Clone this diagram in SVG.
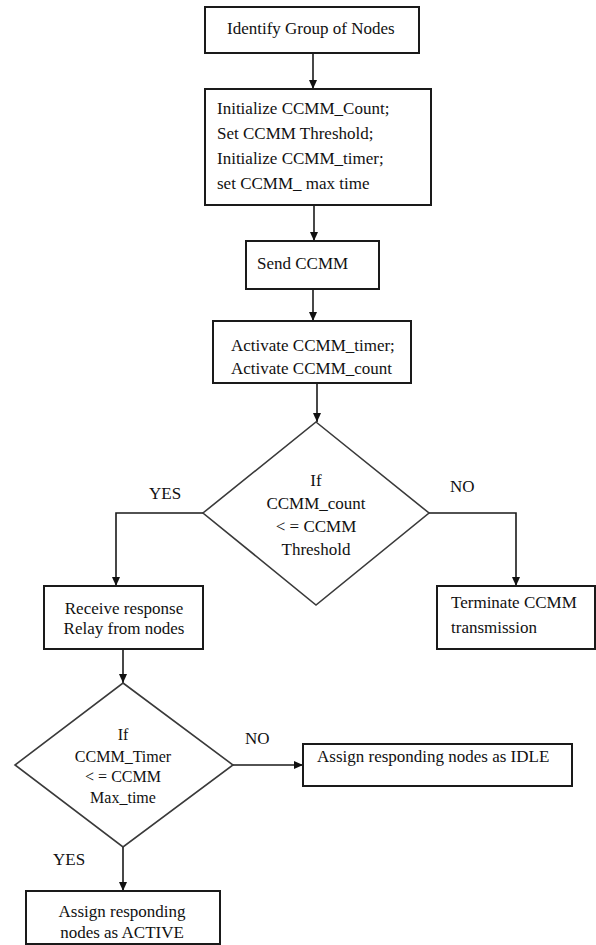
<svg xmlns="http://www.w3.org/2000/svg" width="596" height="945" viewBox="0 0 596 945" font-family="'Liberation Serif', 'Times New Roman', 'DejaVu Serif', serif">
<style>
.box{fill:#fff;stroke:#1a1a1a;stroke-width:2}
.dia{fill:#fff;stroke:#3a3a3a;stroke-width:1.6}
.t{font-family:'Liberation Serif','Times New Roman','DejaVu Serif',serif;font-size:17px;fill:#111}
.c{text-anchor:middle}
.s{font-size:16px}
.ln{fill:none;stroke:#1a1a1a;stroke-width:1.6}
</style>
<defs>
<marker id="ah" markerWidth="10" markerHeight="10" refX="9" refY="4.5" orient="auto" markerUnits="userSpaceOnUse">
<path d="M0,0.5 L9,4.5 L0,8.5 z" fill="#111"/>
</marker>
</defs>
<rect width="596" height="945" fill="#fff"/>
<g id="connectors">
<path class="ln" d="M313,53 V89" marker-end="url(#ah)"/>
<path class="ln" d="M314,205 V241" marker-end="url(#ah)"/>
<path class="ln" d="M313,289 V321" marker-end="url(#ah)"/>
<path class="ln" d="M317,383 V422" marker-end="url(#ah)"/>
<path class="ln" d="M203,513 H116 V586" marker-end="url(#ah)"/>
<path class="ln" d="M429,513 H516 V586" marker-end="url(#ah)"/>
<path class="ln" d="M123,649 V683" marker-end="url(#ah)"/>
<path class="ln" d="M233,765 H303" marker-end="url(#ah)"/>
<path class="ln" d="M123,847 V891" marker-end="url(#ah)"/>
<text class="t" x="149" y="499">YES</text>
<text class="t" x="450" y="492">NO</text>
<text class="t" x="245" y="744">NO</text>
<text class="t" x="53" y="865">YES</text>
</g>
<g id="identify">
<rect class="box" x="205" y="7" width="214" height="46"/>
<text class="t" x="227" y="34">Identify Group of Nodes</text>
</g>
<g id="initialize">
<rect class="box" x="205" y="89" width="226" height="116"/>
<text class="t" x="217" y="114">Initialize CCMM_Count;</text>
<text class="t" x="217" y="139">Set CCMM Threshold;</text>
<text class="t" x="217" y="164">Initialize CCMM_timer;</text>
<text class="t" x="217" y="189">set  CCMM_ max time</text>
</g>
<g id="send">
<rect class="box" x="246" y="241" width="133" height="48"/>
<text class="t" x="257" y="269">Send CCMM</text>
</g>
<g id="activate">
<rect class="box" x="213" y="321" width="198" height="62"/>
<text class="t" x="231" y="351">Activate CCMM_timer;</text>
<text class="t" x="231" y="374">Activate CCMM_count</text>
</g>
<g id="decision1">
<polygon class="dia" points="316,422 429,513 316,605 203,513"/>
<text class="t c" x="316" y="486">If</text>
<text class="t c" x="316" y="509">CCMM_count</text>
<text class="t c" x="316" y="532">&lt; = CCMM</text>
<text class="t c" x="316" y="555">Threshold</text>
</g>
<g id="receive">
<rect class="box" x="44" y="586" width="159" height="63"/>
<text class="t c" x="124" y="614">Receive response</text>
<text class="t c" x="124" y="634">Relay from nodes</text>
</g>
<g id="terminate">
<rect class="box" x="437" y="586" width="158" height="63"/>
<text class="t" x="451" y="608">Terminate CCMM</text>
<text class="t" x="451" y="633">transmission</text>
</g>
<g id="decision2">
<polygon class="dia" points="123,683 233,765 123,847 15,765"/>
<text class="t c s" x="123" y="740">If</text>
<text class="t c s" x="123" y="762">CCMM_Timer</text>
<text class="t c s" x="123" y="782">&lt; = CCMM</text>
<text class="t c s" x="123" y="803">Max_time</text>
</g>
<g id="idle">
<rect class="box" x="303" y="744" width="269" height="42"/>
<text class="t" x="317" y="762">Assign responding nodes as IDLE</text>
</g>
<g id="active">
<rect class="box" x="26" y="891" width="194" height="53"/>
<text class="t c" x="122" y="917">Assign responding</text>
<text class="t c" x="122" y="938">nodes as ACTIVE</text>
</g>
</svg>
